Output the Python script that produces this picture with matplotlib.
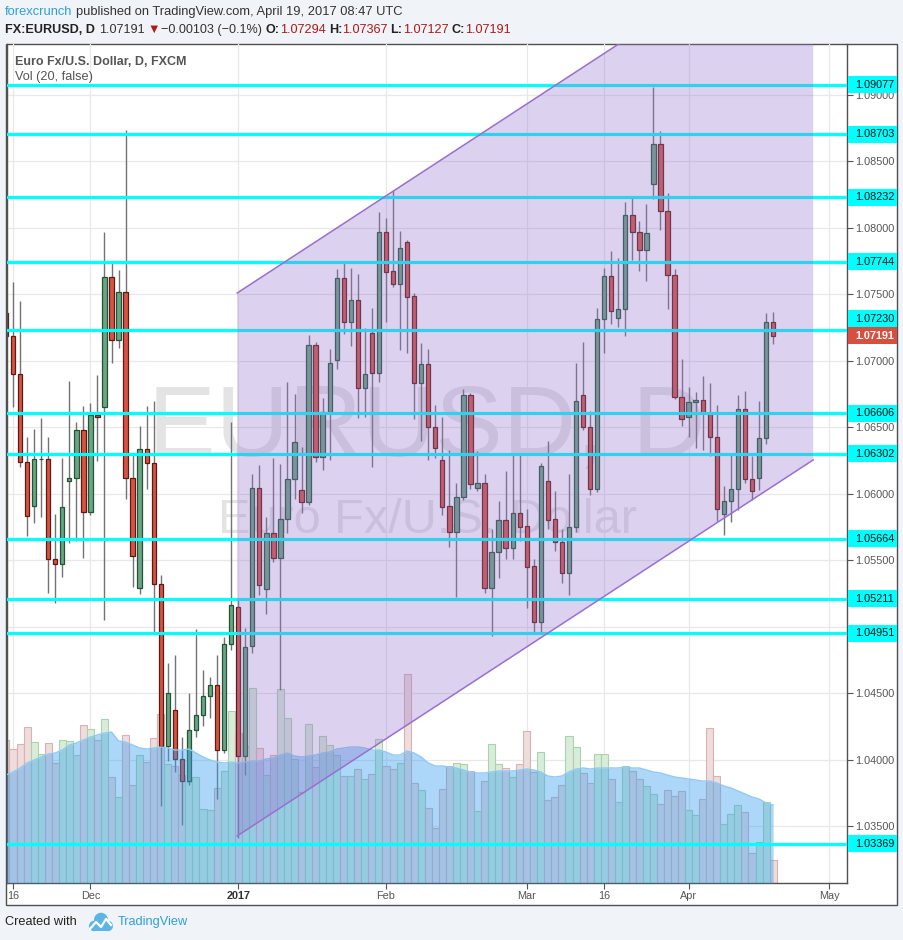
import numpy as np
import pandas as pd
import matplotlib
matplotlib.use('Agg')
import matplotlib.pyplot as plt
from matplotlib.patches import Rectangle, Polygon, Circle
from matplotlib import transforms, font_manager

W, H = 904, 940

# ---- data ----
holidays = ['2016-12-26', '2017-01-02']
days = pd.bdate_range('2016-11-15', '2017-05-05')
days = days[~days.isin(pd.to_datetime(holidays))]

opens = [1.07361, 1.07188, 1.06902, 1.06241, 1.05910, 1.06260, 1.06263, 1.05511, 1.05474, 1.06098,
         1.06120, 1.06481, 1.05865, 1.06594, 1.06654, 1.07632, 1.07158, 1.07519, 1.06120, 1.05293,
         1.06338, 1.06233, 1.05323, 1.04105, 1.04376, 1.04008, 1.03842, 1.04226, 1.04338, 1.04481,
         1.04564, 1.04075, 1.04872, 1.05150, 1.04030, 1.04857, 1.06045, 1.05286, 1.05707, 1.05519,
         1.05812, 1.06113, 1.06030, 1.05940, 1.07120, 1.06278, 1.06617, 1.07008, 1.07624, 1.07293,
         1.07459, 1.06797, 1.07211, 1.06910, 1.07970, 1.07677, 1.07579, 1.07895, 1.07489, 1.06835,
         1.06977, 1.06504, 1.06256, 1.05910, 1.05714, 1.05977, 1.06744, 1.06045, 1.06083, 1.05293,
         1.05564, 1.05805, 1.05594, 1.05857, 1.05759, 1.05459, 1.05038, 1.06098, 1.05812, 1.05639,
         1.05406, 1.05752, 1.06744, 1.06504, 1.06038, 1.07316, 1.07639, 1.07323, 1.07391, 1.08098,
         1.07970, 1.07835, 1.08331, 1.08632, 1.08128, 1.07647, 1.06729, 1.06579, 1.06692, 1.06707,
         1.06602, 1.06429, 1.05850, 1.05947, 1.06038, 1.06639, 1.06113, 1.06120, 1.06421, 1.07294]
highs = [1.07459, 1.07594, 1.07451, 1.06429, 1.06489, 1.06571, 1.06429, 1.05850, 1.06271, 1.06850,
         1.06541, 1.06662, 1.06684, 1.06895, 1.07970, 1.07744, 1.07684, 1.08737, 1.06293, 1.06511,
         1.06662, 1.06699, 1.05391, 1.04729, 1.04789, 1.04173, 1.04504, 1.04985, 1.04677, 1.04624,
         1.04789, 1.04925, 1.06541, 1.05203, 1.04992, 1.06150, 1.06218, 1.05827, 1.06271, 1.06226,
         1.06842, 1.06752, 1.06353, 1.07195, 1.07143, 1.06722, 1.07090, 1.07692, 1.07737, 1.07699,
         1.07654, 1.07248, 1.07398, 1.08120, 1.08075, 1.08286, 1.07977, 1.07910, 1.07511, 1.07135,
         1.07090, 1.06669, 1.06579, 1.06331, 1.06083, 1.06789, 1.06759, 1.06323, 1.06150, 1.05737,
         1.05947, 1.06173, 1.06293, 1.06293, 1.05887, 1.05511, 1.06233, 1.06398, 1.06023, 1.05737,
         1.06150, 1.06985, 1.07143, 1.06624, 1.07398, 1.07699, 1.07827, 1.07774, 1.08195, 1.08226,
         1.08053, 1.08180, 1.09060, 1.08729, 1.08263, 1.07692, 1.07015, 1.06805, 1.06767, 1.06887,
         1.06835, 1.06669, 1.06060, 1.06293, 1.06744, 1.06774, 1.06286, 1.06699, 1.07361, 1.07367]
lows = [1.07120, 1.06654, 1.06203, 1.05684, 1.05782, 1.05827, 1.05256, 1.05180, 1.05376, 1.05632,
        1.05647, 1.05519, 1.05842, 1.06248, 1.05053, 1.06985, 1.07098, 1.05962, 1.05301, 1.05248,
        1.06038, 1.04955, 1.03654, 1.03992, 1.03910, 1.03511, 1.03812, 1.04173, 1.04256, 1.04316,
        1.03707, 1.04053, 1.04827, 1.03414, 1.03887, 1.04805, 1.05241, 1.05098, 1.05489, 1.04526,
        1.05707, 1.05962, 1.05857, 1.05917, 1.06241, 1.06180, 1.06256, 1.06940, 1.07203, 1.07113,
        1.06571, 1.06579, 1.06203, 1.06842, 1.07293, 1.07556, 1.07083, 1.07060, 1.06564, 1.06398,
        1.06256, 1.06271, 1.05842, 1.05602, 1.05226, 1.05955, 1.06038, 1.06023, 1.05256, 1.04932,
        1.05368, 1.05511, 1.05511, 1.05647, 1.05143, 1.04955, 1.04962, 1.05737, 1.05571, 1.05331,
        1.05241, 1.05714, 1.06481, 1.05992, 1.06015, 1.07060, 1.07278, 1.07256, 1.07188, 1.07759,
        1.07677, 1.07602, 1.08218, 1.07985, 1.07391, 1.06714, 1.06511, 1.06429, 1.06346, 1.06331,
        1.06286, 1.05797, 1.05692, 1.05789, 1.05880, 1.06083, 1.05955, 1.06030, 1.06376, 1.07127]
closes = [1.07188, 1.06902, 1.06241, 1.05835, 1.06263, 1.06263, 1.05511, 1.05474, 1.05902, 1.06120,
          1.06481, 1.05865, 1.06594, 1.06579, 1.07632, 1.07158, 1.07519, 1.06120, 1.05534, 1.06338,
          1.06233, 1.05323, 1.04105, 1.04504, 1.04008, 1.03842, 1.04226, 1.04338, 1.04481, 1.04564,
          1.04075, 1.04872, 1.05165, 1.04030, 1.04850, 1.06045, 1.05316, 1.05707, 1.05519, 1.05812,
          1.06113, 1.06391, 1.05940, 1.07120, 1.06278, 1.06617, 1.06985, 1.07624, 1.07293, 1.07459,
          1.06797, 1.06902, 1.06910, 1.07970, 1.07669, 1.07579, 1.07850, 1.07481, 1.06835, 1.06977,
          1.06504, 1.06346, 1.05902, 1.05714, 1.05977, 1.06744, 1.06075, 1.06083, 1.05293, 1.05564,
          1.05805, 1.05594, 1.05857, 1.05752, 1.05451, 1.05038, 1.06211, 1.05805, 1.05639, 1.05406,
          1.05752, 1.06699, 1.06504, 1.06038, 1.07316, 1.07639, 1.07376, 1.07391, 1.08098, 1.07970,
          1.07835, 1.07962, 1.08632, 1.08128, 1.07647, 1.06729, 1.06564, 1.06692, 1.06707, 1.06609,
          1.06429, 1.05887, 1.05947, 1.06038, 1.06639, 1.06113, 1.06023, 1.06421, 1.07293, 1.07191]

volume = [143, 134, 139, 156, 141, 129, 140, 120, 143, 142, 128, 158, 154, 143, 164, 106, 86, 148, 98, 128,
          121, 145, 169, 119, 117, 108, 101, 106, 74, 73, 95, 112, 172, 150, 137, 195, 135, 108, 128, 194,
          165, 124, 91, 159, 116, 147, 138, 128, 107, 107, 114, 104, 109, 144, 117, 114, 120, 209, 100, 93,
          75, 55, 94, 117, 120, 119, 112, 72, 102, 139, 119, 115, 106, 119, 152, 111, 131, 83, 86, 98,
          147, 136, 110, 100, 129, 129, 104, 81, 117, 112, 104, 97, 89, 79, 93, 87, 92, 73, 68, 84,
          155, 107, 59, 69, 78, 71, 30, 41, 81, 23]
vol_ma = [108, 111, 115, 120, 123, 126, 129, 130, 133, 138, 140, 143, 146, 148, 150, 151, 142, 141, 138, 135,
          134, 135, 136, 135, 133, 133, 134, 130, 126, 123, 121, 120, 121, 120, 121, 122, 122, 124, 125, 128,
          130, 127, 126, 127, 128, 130, 131, 134, 135, 136, 136, 135, 133, 133, 131, 128, 128, 132, 130, 126,
          120, 117, 117, 116, 115, 113, 111, 110, 110, 111, 112, 112, 112, 113, 114, 113, 111, 107, 106, 107,
          111, 114, 115, 114, 115, 115, 115, 115, 116, 115, 115, 113, 111, 110, 108, 106, 105, 104, 103, 102,
          102, 100, 97, 95, 92, 89, 86, 84, 80, 78]
vol_top = 839  # volume units spanning the full pane height

levels = [1.09077, 1.08703, 1.08232, 1.07744, 1.07230, 1.06606, 1.06302,
          1.05664, 1.05211, 1.04951, 1.03369]
last_price = 1.07191

# parallel channel drawing (bar position, price)
channel_bars = [32.86, 114.7]
channel_upper = [1.07511, 1.10338]
channel_lower = [1.03429, 1.06256]

tick_dates = ['2016-11-16', '2016-12-01', '2017-01-03', '2017-02-01', '2017-03-01',
              '2017-03-16', '2017-04-03', '2017-05-01']
tick_labels = ['16', 'Dec', '2017', 'Feb', 'Mar', '16', 'Apr', 'May']

# ---- fonts / colors ----
names = {f.name for f in font_manager.fontManager.ttflist}
narrow = 'Liberation Sans Narrow' if 'Liberation Sans Narrow' in names else 'Liberation Sans'
HF = [narrow, 'DejaVu Sans']
AF = ['Liberation Sans', 'DejaVu Sans']

UP, DOWN = '#6ba583', '#d75442'
UP_EDGE, DOWN_EDGE = '#225437', '#5b1a13'
WICK = '#737375'
CYAN = '#00ffff'
BLUE = '#2f9fdb'
DRED = '#b01818'


def fx(px):
    return px / W


def fy(py):
    return 1 - py / H


fig = plt.figure(figsize=(W / 100, H / 100), dpi=100, facecolor='#f0f3f7')
fig.add_artist(Rectangle((fx(6), fy(905)), fx(897) - fx(6), fy(44) - fy(905),
                         transform=fig.transFigure, facecolor='white',
                         edgecolor='#505050', lw=1, zorder=-1))
ax = fig.add_axes([fx(7), fy(883), fx(847) - fx(7), fy(44) - fy(883)])
ax.set_facecolor('none')

x = np.arange(len(opens))
o = np.array(opens)
c = np.array(closes)
up = c >= o

ylo, yhi = 1.03075, 1.09383
ax.set_xlim(0.15, 119.5)
ax.set_ylim(ylo, yhi)

# watermark
ax.text(0.5, 0.54, 'EURUSD, D', transform=ax.transAxes, ha='center', va='center',
        fontsize=73, color='#e4e4e4', family=AF, zorder=0.6)
ax.text(0.5, 0.432, 'Euro Fx/U.S. Dollar', transform=ax.transAxes, ha='center', va='center',
        fontsize=35, color='#e4e4e4', family=AF, zorder=0.6)

# volume + its moving average
vol_tr = transforms.blended_transform_factory(
    ax.transData, transforms.Affine2D().scale(1, 1 / vol_top) + ax.transAxes)
ax.bar(x, volume, width=1.0, bottom=0,
       color=np.where(up, '#d9ecd9', '#efdcdc'),
       edgecolor=np.where(up, '#a9d3ae', '#d8b3b3'), lw=0.8,
       transform=vol_tr, zorder=1)
ax.fill_between(x, 0, vol_ma, transform=vol_tr, color='#3aa0f0', alpha=0.42, lw=0, zorder=3)
ax.plot(x, vol_ma, transform=vol_tr, color='#8fcaf4', lw=1, zorder=3)

# candles
ax.vlines(x, lows, highs, colors=WICK, lw=1, zorder=2)
ax.bar(x, np.abs(c - o), bottom=np.minimum(o, c), width=0.62,
       color=np.where(up, UP, DOWN), edgecolor=np.where(up, UP_EDGE, DOWN_EDGE),
       lw=0.9, zorder=2.1)

# horizontal levels
for lev in levels:
    ax.axhline(lev, color=CYAN, lw=2.3, zorder=4)

# channel
ax.add_patch(Polygon([(channel_bars[0], channel_upper[0]), (channel_bars[1], channel_upper[1]),
                      (channel_bars[1], channel_lower[1]), (channel_bars[0], channel_lower[0])],
                     closed=True, facecolor='#9575cd', alpha=0.33, lw=0, zorder=5))
ax.plot(channel_bars, channel_upper, color='#9a6fcf', lw=1.1, zorder=5.1)
ax.plot(channel_bars, channel_lower, color='#9a6fcf', lw=1.1, zorder=5.1)

# axes styling
ax.set_axisbelow(True)
ax.grid(True, color='#e8e8e8', lw=0.9)
ax.yaxis.tick_right()
yt = np.arange(1.035, 1.0901, 0.005)
ax.set_yticks(yt)
# 1.05000 sits under the 1.04951 marker, so its text is left out
ax.set_yticklabels(['' if abs(v - 1.05) < 1e-6 else f'{v:.5f}' for v in yt])
tick_pos = [days.get_loc(pd.Timestamp(d)) for d in tick_dates]
ax.set_xticks(tick_pos)
ax.set_xticklabels(tick_labels)
ax.tick_params(axis='both', labelsize=7.8, colors='#555555', length=4, width=0.8, pad=2)
for lab in ax.get_xticklabels() + ax.get_yticklabels():
    lab.set_family(AF)
ax.get_xticklabels()[2].set_fontweight('bold')
ax.get_xticklabels()[2].set_color('#333333')
ax.spines['top'].set_visible(False)
for s in ['left', 'right', 'bottom']:
    ax.spines[s].set_color('#505050')
    ax.spines[s].set_linewidth(1)

# price scale labels
lab_tr = transforms.blended_transform_factory(fig.transFigure, ax.transData)
hh = 8.5 * (yhi - ylo) / 839


def price_label(val, ypos, fc, tc, bold=False):
    ax.add_patch(Rectangle((fx(848.5), ypos - hh), fx(897) - fx(848.5), 2 * hh, transform=lab_tr,
                           facecolor=fc, lw=0, zorder=10, clip_on=False))
    ax.text(fx(855), ypos, f'{val:.5f}', transform=lab_tr, ha='left', va='center',
            fontsize=7.8, color=tc, family=AF, fontweight='bold' if bold else 'normal',
            zorder=11, clip_on=False)


for lev in levels:
    ypos = lev
    if abs(lev - last_price) < 2 * hh:
        ypos = last_price + 2 * hh  # pushed above the last-price tag
    price_label(lev, ypos, CYAN, '#111111')
price_label(last_price, last_price, '#d6503f', 'white', bold=True)
ax.set_xlim(0.15, 119.5)
ax.set_ylim(ylo, yhi)

# legend texts in the pane
fig.text(fx(15), fy(62), 'Euro Fx/U.S. Dollar, D, FXCM', fontsize=9.0, fontweight='bold',
         color='#555555', family=HF, va='center', zorder=3)
fig.text(fx(15), fy(77), 'Vol (20, false)', fontsize=9.2, color='#555555', family=HF,
         va='center', zorder=3)

# header rows
renderer = fig.canvas.get_renderer()


def row(x0, y0, pieces, size):
    xp = x0
    for s, col, bold, gap in pieces:
        t = fig.text(fx(xp), fy(y0), s, fontsize=size, color=col, family=HF,
                     fontweight='bold' if bold else 'normal', va='center', ha='left')
        xp += t.get_window_extent(renderer).width + gap


row(5, 12, [('forexcrunch', BLUE, False, 4),
            ('published on TradingView.com, April 19, 2017 08:47 UTC', '#333333', False, 0)], 9.3)
row(5, 30, [('FX:EURUSD, D', '#222222', True, 4),
            ('1.07191', '#333333', False, 3),
            ('\u25bc', DRED, False, 1),
            ('\u22120.00103 (\u22120.1%)', '#333333', False, 4),
            ('O:', '#222222', True, 0), ('1.07294', DRED, False, 3),
            ('H:', '#222222', True, 0), ('1.07367', DRED, False, 3),
            ('L:', '#222222', True, 0), ('1.07127', DRED, False, 3),
            ('C:', '#222222', True, 0), ('1.07191', DRED, False, 0)], 9.1)

# footer
fig.text(fx(5), fy(922), 'Created with', fontsize=9.2, color='#222222', family=HF, va='center')
for cx, cy, r in [(94, 926, 5), (101, 920, 7), (108, 926, 5)]:
    fig.add_artist(Circle((fx(cx), fy(cy)), r / W, transform=fig.transFigure,
                          facecolor='#5bb6e6', lw=0))
fig.add_artist(Rectangle((fx(94), fy(931)), 14 / W, 5 / H, transform=fig.transFigure,
                         facecolor='#5bb6e6', lw=0))
fig.add_artist(plt.Line2D([fx(90), fx(96), fx(101), fx(106), fx(111)],
                          [fy(929), fy(922), fy(927), fy(919), fy(925)],
                          transform=fig.transFigure, color='white', lw=1.6))
fig.text(fx(118), fy(922), 'TradingView', fontsize=9.2, color=BLUE, family=HF, va='center')

fig.savefig('out.png', dpi=100, facecolor=fig.get_facecolor())
